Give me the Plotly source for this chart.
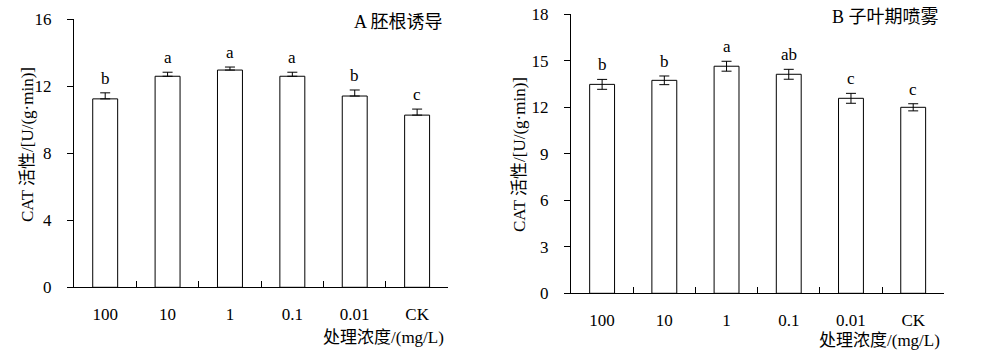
import plotly.graph_objects as go

categories = ["100", "10", "1", "0.1", "0.01", "CK"]

a_values = [11.25, 12.6, 12.97, 12.6, 11.42, 10.28]
a_errors = [0.36, 0.24, 0.18, 0.24, 0.36, 0.36]
a_letters = ["b", "a", "a", "a", "b", "c"]

b_values = [13.48, 13.74, 14.65, 14.13, 12.58, 12.0]
b_errors = [0.32, 0.28, 0.32, 0.32, 0.32, 0.23]
b_letters = ["b", "b", "a", "ab", "c", "c"]

a_title = "A 胚根诱导"
b_title = "B 子叶期喷雾"
y_title = "CAT 活性/[U/(g·min)]"
x_title = "处理浓度/(mg/L)"

a_ticks = [0, 4, 8, 12, 16]
b_ticks = [0, 3, 6, 9, 12, 15, 18]

FONT = "Liberation Serif, Times New Roman, Noto Sans CJK SC, serif"
FS = 17
W, H = 983, 355

def px_x(x):
    return x / W

def px_y(y):
    return 1 - y / H

fig = go.Figure()

fig.add_trace(go.Bar(
    x=categories, y=a_values, width=0.4,
    marker=dict(color="white", line=dict(color="black", width=1)),
    error_y=dict(type="data", array=a_errors, arrayminus=[0] * len(a_errors),
                 symmetric=False, color="black", thickness=1, width=5),
    xaxis="x", yaxis="y", showlegend=False,
))
fig.add_trace(go.Bar(
    x=categories, y=b_values, width=0.4,
    marker=dict(color="white", line=dict(color="black", width=1)),
    error_y=dict(type="data", array=b_errors, symmetric=True,
                 color="black", thickness=1, width=5),
    xaxis="x2", yaxis="y2", showlegend=False,
))

axis_common = dict(
    showline=True, linecolor="black", linewidth=1, showgrid=False, zeroline=False,
    automargin=False, tickfont=dict(family=FONT, size=FS, color="black"),
)

xa = dict(axis_common, type="category", tickson="boundaries", ticks="inside",
          ticklen=6, tickcolor="black", ticklabelstandoff=11, range=[-0.5, 5.5])

layout = dict(
    template="none",
    width=W, height=H, margin=dict(l=0, r=0, t=0, b=0, pad=0, autoexpand=False),
    paper_bgcolor="white", plot_bgcolor="white",
    font=dict(family=FONT, color="black", size=FS),
    xaxis=dict(xa, domain=[px_x(74), px_x(448.3)], anchor="y"),
    yaxis=dict(axis_common, domain=[px_y(287.3), px_y(19.3)], range=[0, 16],
               tickvals=a_ticks, ticks="outside", ticklen=6, tickcolor="black",
               ticklabelstandoff=12, anchor="x"),
    xaxis2=dict(xa, domain=[px_x(571), px_x(944.3)], anchor="y2"),
    yaxis2=dict(axis_common, domain=[px_y(293.3), px_y(14.3)], range=[0, 18],
                tickvals=b_ticks, ticks="outside", ticklen=6, tickcolor="black",
                ticklabelstandoff=12, anchor="x2"),
    bargap=0.6,
    showlegend=False,
    hovermode=False,
)
fig.update_layout(**layout)

annotations = []
for i, (v, e, t) in enumerate(zip(a_values, a_errors, a_letters)):
    annotations.append(dict(x=i, y=v + e, xref="x", yref="y", text=t,
                            showarrow=False, yanchor="bottom", yshift=3,
                            font=dict(family=FONT, size=FS, color="black")))
for i, (v, e, t) in enumerate(zip(b_values, b_errors, b_letters)):
    annotations.append(dict(x=i, y=v + e, xref="x2", yref="y2", text=t,
                            showarrow=False, yanchor="bottom", yshift=3,
                            font=dict(family=FONT, size=FS, color="black")))

# panel titles
annotations.append(dict(x=px_x(445), y=px_y(22), xref="paper", yref="paper", text=a_title,
                        showarrow=False, xanchor="right", yanchor="middle",
                        font=dict(family=FONT, size=18, color="black")))
annotations.append(dict(x=px_x(941), y=px_y(17), xref="paper", yref="paper", text=b_title,
                        showarrow=False, xanchor="right", yanchor="middle",
                        font=dict(family=FONT, size=18, color="black")))
# x titles
annotations.append(dict(x=px_x(446), y=px_y(337), xref="paper", yref="paper", text=x_title,
                        showarrow=False, xanchor="right", yanchor="middle",
                        font=dict(family=FONT, size=FS, color="black")))
annotations.append(dict(x=px_x(942), y=px_y(340), xref="paper", yref="paper", text=x_title,
                        showarrow=False, xanchor="right", yanchor="middle",
                        font=dict(family=FONT, size=FS, color="black")))
# y titles
annotations.append(dict(x=px_x(27), y=px_y(145), xref="paper", yref="paper", text=y_title,
                        showarrow=False, textangle=-90, xanchor="center", yanchor="middle",
                        font=dict(family=FONT, size=FS, color="black")))
annotations.append(dict(x=px_x(519), y=px_y(155), xref="paper", yref="paper", text=y_title,
                        showarrow=False, textangle=-90, xanchor="center", yanchor="middle",
                        font=dict(family=FONT, size=FS, color="black")))

fig.update_layout(annotations=annotations)

fig.write_html(
    "out.html",
    config={"displayModeBar": False, "staticPlot": True},
    post_script="document.body.style.margin='0';document.body.style.overflow='hidden';",
)
